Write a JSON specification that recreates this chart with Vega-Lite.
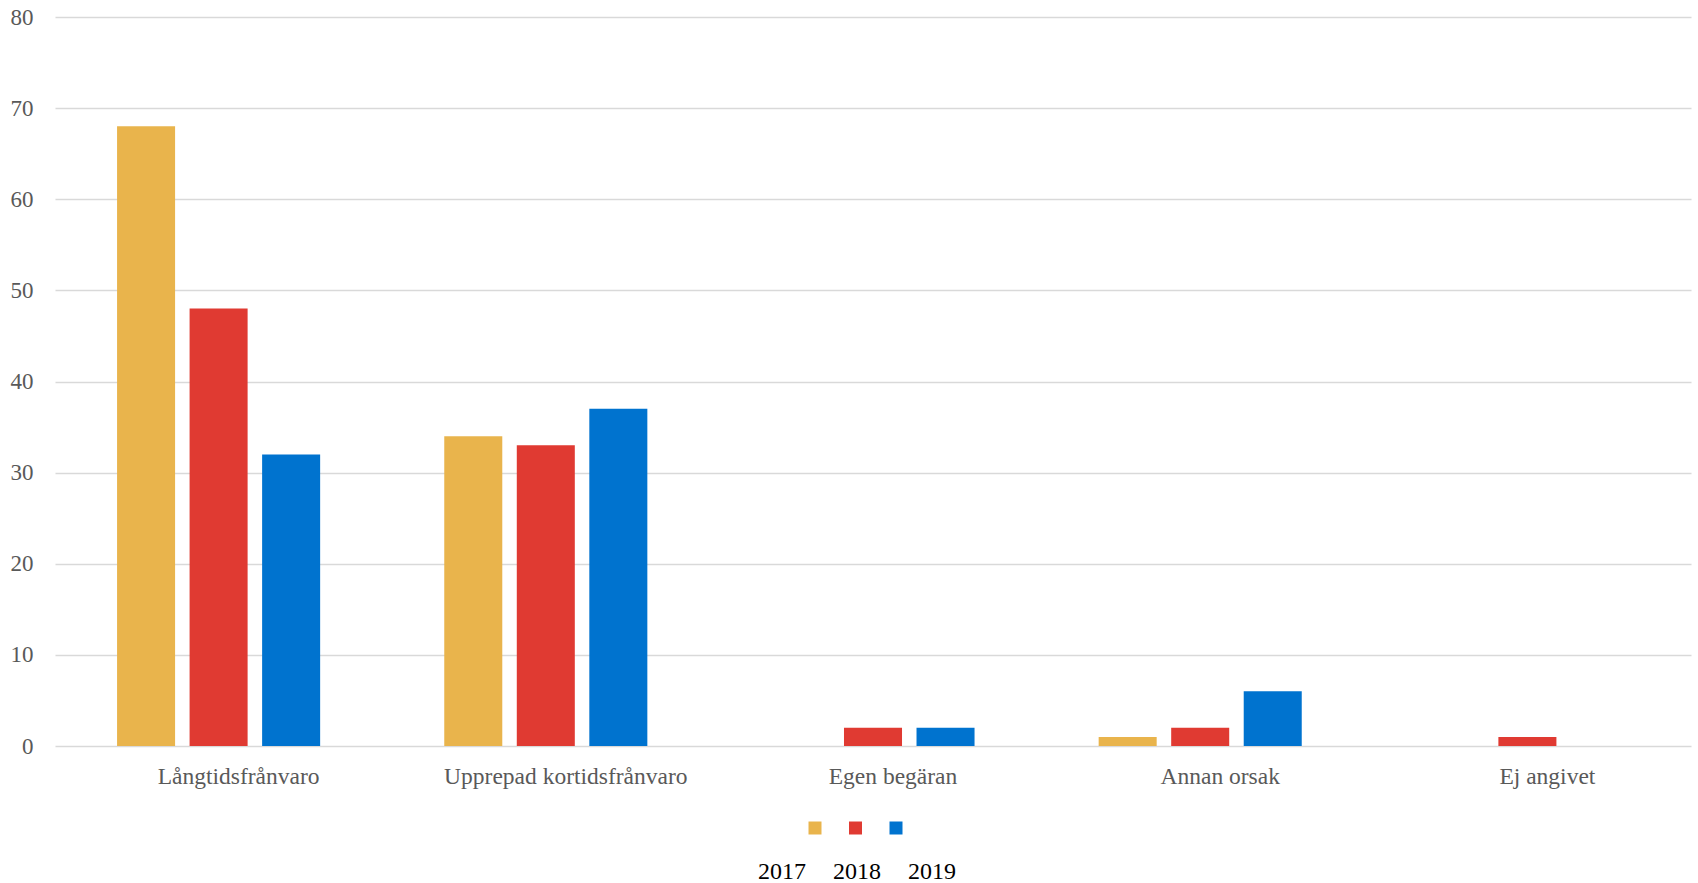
{
  "$schema": "https://vega.github.io/schema/vega-lite/v6.json",
  "width": 1636,
  "height": 729,
  "autosize": {"type": "none"},
  "padding": {"left": 55, "top": 17, "right": 7, "bottom": 137},
  "background": "white",
  "data": {
    "values": [
      {"orsak": "Långtidsfrånvaro", "year": "2017", "value": 68},
      {"orsak": "Långtidsfrånvaro", "year": "2018", "value": 48},
      {"orsak": "Långtidsfrånvaro", "year": "2019", "value": 32},
      {"orsak": "Upprepad kortidsfrånvaro", "year": "2017", "value": 34},
      {"orsak": "Upprepad kortidsfrånvaro", "year": "2018", "value": 33},
      {"orsak": "Upprepad kortidsfrånvaro", "year": "2019", "value": 37},
      {"orsak": "Egen begäran", "year": "2018", "value": 2},
      {"orsak": "Egen begäran", "year": "2019", "value": 2},
      {"orsak": "Annan orsak", "year": "2017", "value": 1},
      {"orsak": "Annan orsak", "year": "2018", "value": 2},
      {"orsak": "Annan orsak", "year": "2019", "value": 6},
      {"orsak": "Ej angivet", "year": "2018", "value": 1}
    ]
  },
  "mark": {"type": "bar"},
  "encoding": {
    "x": {
      "field": "orsak",
      "type": "nominal",
      "sort": null,
      "scale": {"paddingInner": 0.335, "paddingOuter": 0.1675},
      "axis": {
        "title": null,
        "labelAngle": 0,
        "domain": false,
        "ticks": false,
        "labelPadding": 18,
        "labelOffset": 20,
        "labelLimit": 0,
        "labelFont": "Liberation Serif",
        "labelFontSize": 23.5,
        "labelColor": "#595959"
      }
    },
    "xOffset": {
      "field": "year",
      "type": "nominal",
      "scale": {"paddingInner": 0.2, "paddingOuter": 0.1}
    },
    "y": {
      "field": "value",
      "type": "quantitative",
      "scale": {"domain": [0, 80], "nice": false},
      "axis": {
        "title": null,
        "values": [0, 10, 20, 30, 40, 50, 60, 70, 80],
        "domain": false,
        "ticks": false,
        "labelPadding": 22,
        "labelFont": "Liberation Serif",
        "labelFontSize": 23,
        "labelColor": "#595959",
        "gridColor": "#d9d9d9",
        "gridWidth": 1.6
      }
    },
    "color": {
      "field": "year",
      "type": "nominal",
      "scale": {"range": ["#E9B44C", "#E03A32", "#0073CF"]},
      "legend": {
        "title": null,
        "orient": "none",
        "direction": "horizontal",
        "legendX": 753.5,
        "legendY": 804.5,
        "padding": 0,
        "symbolType": "square",
        "symbolSize": 169,
        "symbolStrokeWidth": 0,
        "labelExpr": "''",
        "labelOffset": 0,
        "columnPadding": 27.5
      }
    },
    "opacity": {
      "field": "year",
      "type": "nominal",
      "scale": {"domain": ["2017", "2018", "2019"], "range": [1, 1]},
      "legend": {
        "title": null,
        "orient": "none",
        "direction": "horizontal",
        "legendX": 679,
        "legendY": 850,
        "padding": 0,
        "symbolSize": 0,
        "symbolStrokeWidth": 0,
        "labelOffset": 0,
        "labelBaseline": "alphabetic",
        "labelFont": "Liberation Serif",
        "labelFontSize": 24,
        "labelColor": "#000000",
        "columnPadding": 3
      }
    }
  },
  "config": {
    "view": {"stroke": null},
    "font": "Liberation Serif"
  }
}
